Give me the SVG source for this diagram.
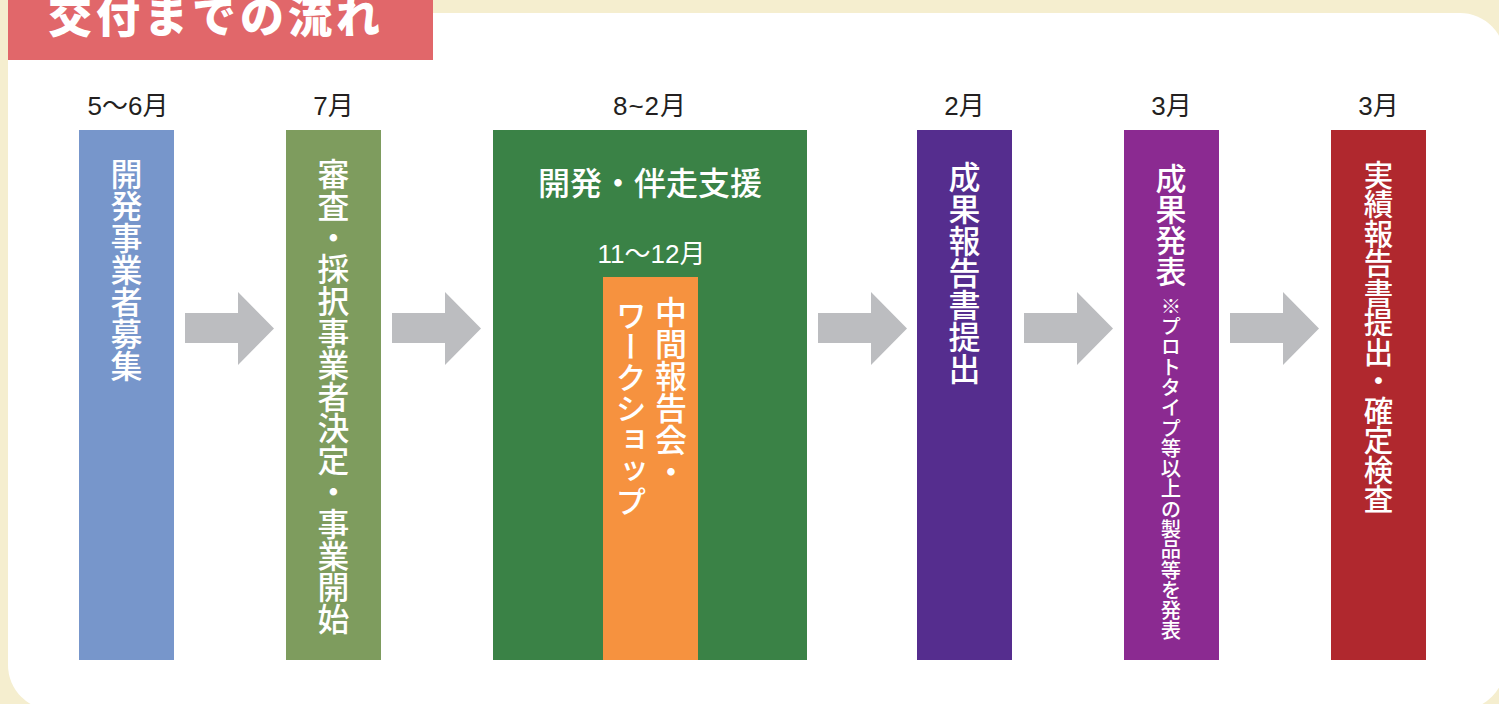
<svg xmlns="http://www.w3.org/2000/svg" width="1499" height="704" viewBox="0 0 1499 704">
<defs>
<style>
.lbl{font-family:"Liberation Sans","Noto Sans CJK JP",sans-serif;font-size:26px;fill:#231F20;text-anchor:middle}
.vt{font-family:"Noto Sans CJK JP","Liberation Sans",sans-serif;fill:#FFFFFF;writing-mode:vertical-rl;font-weight:500}
.ht{font-family:"Noto Sans CJK JP","Liberation Sans",sans-serif;fill:#FFFFFF;text-anchor:middle;font-weight:500}
.arr{fill:#BCBDC0}
</style>
<path id="arrow" d="M0,21 H53 V0 L89,36.5 L53,73 V51 H0 Z"/>
</defs>
<rect x="0" y="0" width="1499" height="704" fill="#F5EECF"/>
<rect x="8" y="13" width="1497" height="697" rx="45" ry="45" fill="#FFFFFF"/>
<g id="title">
<rect x="8" y="0" width="425" height="60" fill="#E1676A"/>
<text x="48" y="33" font-family="'Noto Sans CJK JP',sans-serif" font-size="44" font-weight="900" letter-spacing="4" fill="#FFFFFF">交付までの流れ</text>
</g>
<g id="connectors">
<use href="#arrow" class="arr" x="185" y="292"/>
<use href="#arrow" class="arr" x="392" y="292"/>
<use href="#arrow" class="arr" x="818" y="292"/>
<use href="#arrow" class="arr" x="1024" y="292"/>
<use href="#arrow" class="arr" x="1230" y="292"/>
</g>
<g id="step1">
<text class="lbl" x="128" y="115">5～6月</text>
<rect x="79" y="130" width="95" height="530" fill="#7796CB"/>
<text class="vt" x="126.5" y="158" font-size="32">開発事業者募集</text>
</g>
<g id="step2">
<text class="lbl" x="333.5" y="115">7月</text>
<rect x="286" y="130" width="95" height="530" fill="#7E9C5E"/>
<text class="vt" x="333.5" y="158" font-size="31.8">審査・採択事業者決定・事業開始</text>
</g>
<g id="step3">
<text class="lbl" x="650" y="115" letter-spacing="1">8~2月</text>
<rect x="493" y="130" width="314" height="530" fill="#3A8246"/>
<text class="ht" x="650" y="195" font-size="32">開発・伴走支援</text>
<text class="ht" x="651.5" y="263" font-size="26" style="font-family:'Liberation Sans','Noto Sans CJK JP',sans-serif;font-weight:400">11～12月</text>
</g>
<g id="step3-sub">
<rect x="603" y="277" width="95" height="383" fill="#F6923F"/>
<text class="vt" x="671" y="296" font-size="32">中間報告会・</text>
<text class="vt" x="631" y="300" font-size="31">ワークショップ</text>
</g>
<g id="step4">
<text class="lbl" x="964.5" y="115">2月</text>
<rect x="917" y="130" width="95" height="530" fill="#552D8E"/>
<text class="vt" x="964.5" y="161" font-size="32">成果報告書提出</text>
</g>
<g id="step5">
<text class="lbl" x="1171.5" y="115">3月</text>
<rect x="1124" y="130" width="95" height="530" fill="#8B2A91"/>
<text class="vt" x="1171" y="163" font-size="31">成果発表</text>
<text class="vt" x="1171" y="296" font-size="20.3">※プロトタイプ等以上の製品等を発表</text>
</g>
<g id="step6">
<text class="lbl" x="1378.5" y="115">3月</text>
<rect x="1331" y="130" width="95" height="530" fill="#B0282E"/>
<text class="vt" x="1378.5" y="160" font-size="29.5">実績報告書提出・確定検査</text>
</g>
</svg>
